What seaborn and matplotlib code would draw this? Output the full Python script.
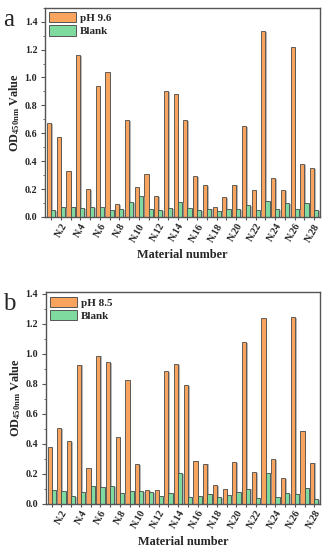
import pandas as pd
import matplotlib.pyplot as plt
import seaborn as sns
import numpy as np
from matplotlib.ticker import MultipleLocator
import matplotlib.patheffects as pe

# ==================================================
# DATA
# ==================================================
materials = [f'N.{i}' for i in range(1, 29)]

ph96 = [0.67, 0.575, 0.328, 1.16, 0.20, 0.936, 1.04, 0.094, 0.695, 0.217,
        0.305, 0.148, 0.904, 0.885, 0.695, 0.294, 0.229, 0.071, 0.143, 0.232,
        0.651, 0.19, 1.333, 0.281, 0.19, 1.217, 0.38, 0.352]
blank_a = [0.05, 0.069, 0.075, 0.063, 0.068, 0.07, 0.047, 0.054, 0.107, 0.147,
           0.057, 0.05, 0.066, 0.109, 0.061, 0.052, 0.06, 0.044, 0.055, 0.056,
           0.088, 0.052, 0.116, 0.057, 0.1, 0.057, 0.098, 0.047]

ph85 = [0.38, 0.502, 0.42, 0.928, 0.24, 0.988, 0.945, 0.445, 0.822, 0.265,
        0.093, 0.089, 0.884, 0.932, 0.793, 0.288, 0.268, 0.122, 0.098, 0.28,
        1.078, 0.212, 1.24, 0.296, 0.17, 1.243, 0.488, 0.274]
blank_b = [0.093, 0.082, 0.05, 0.08, 0.118, 0.113, 0.12, 0.072, 0.084, 0.083,
           0.08, 0.052, 0.073, 0.206, 0.047, 0.053, 0.067, 0.044, 0.057, 0.08,
           0.101, 0.038, 0.202, 0.044, 0.072, 0.067, 0.108, 0.033]

orange = '#F9A45E'
green = '#7FDAA0'
edge = '#4a4a4a'

sns.set_style('ticks')
plt.rcParams['font.family'] = ['Liberation Serif', 'DejaVu Serif']
plt.rcParams['font.weight'] = 'bold'
plt.rcParams['mathtext.fontset'] = 'custom'
plt.rcParams['mathtext.rm'] = 'Liberation Serif:bold'
plt.rcParams['mathtext.it'] = 'Liberation Serif:bold'
plt.rcParams['mathtext.bf'] = 'Liberation Serif:bold'


def make_df(vals, blank, label):
    return pd.DataFrame({
        'Material': materials * 2,
        'OD': list(vals) + list(blank),
        'Series': [label] * len(materials) + ['Blank'] * len(materials),
    })


def draw_panel(ax, df, label, ymax, letter):
    sns.barplot(data=df, x='Material', y='OD', hue='Series', order=materials,
                hue_order=[label, 'Blank'], palette=[orange, green],
                width=0.86, gap=0, edgecolor=edge, linewidth=0.6,
                errorbar=None, ax=ax, saturation=1)
    for p in ax.patches:
        p.set_path_effects([pe.SimplePatchShadow(offset=(1.2, -0.6), shadow_rgbFace='#9a9a9a', alpha=0.7),
                            pe.Normal()])
    ax.set_xlim(-0.62, 27.6)
    ax.set_ylim(0, ymax)
    ax.yaxis.set_major_locator(MultipleLocator(0.2))
    ax.yaxis.set_minor_locator(MultipleLocator(0.1))
    ax.yaxis.set_major_formatter(plt.FormatStrFormatter('%.1f'))
    ax.set_xticks(range(len(materials)))
    ax.set_xticklabels([m if (i + 1) % 2 == 0 else '' for i, m in enumerate(materials)],
                       rotation=60, ha='right', rotation_mode='anchor', fontsize=7.2)
    ax.tick_params(axis='y', labelsize=7.2, length=3, width=0.8, color='#555555', pad=2.5)
    ax.tick_params(axis='y', which='minor', length=1.8, width=0.6, color='#555555')
    ax.tick_params(axis='x', length=2.5, width=0.8, color='#555555', pad=1)
    for s in ax.spines.values():
        s.set_visible(True)
        s.set_color('#555555')
        s.set_linewidth(1.0)
    ax.set_xlabel('Material number', fontsize=8.8, fontweight='bold', labelpad=4)
    ax.set_ylabel(r'OD$_{450nm}$ Value', fontsize=8.8, fontweight='bold', labelpad=2)
    leg = ax.legend(loc='upper left', frameon=False, fontsize=8, handlelength=2.4,
                    handleheight=1.05, labelspacing=0.2, handletextpad=0.35,
                    borderaxespad=0.3, borderpad=0.1)
    for h in leg.legend_handles:
        h.set_edgecolor('#555555')
        h.set_linewidth(0.7)
        h.set_path_effects([])
    for t in leg.get_texts():
        t.set_fontweight('bold')
    ax.figure.text(0.01, ax.get_position().y1 - 0.002, letter, fontsize=18,
                   fontweight='normal', va='top', ha='left')


fig = plt.figure(figsize=(3.29, 5.5), dpi=100)
ax1 = fig.add_axes([0.1368, 0.6055, 0.836, 0.3805])
ax2 = fig.add_axes([0.139, 0.0842, 0.834, 0.3843])

draw_panel(ax1, make_df(ph96, blank_a, 'pH 9.6'), 'pH 9.6', 1.5, 'a')
draw_panel(ax2, make_df(ph85, blank_b, 'pH 8.5'), 'pH 8.5', 1.41, 'b')

plt.savefig('out.png', dpi=100)
